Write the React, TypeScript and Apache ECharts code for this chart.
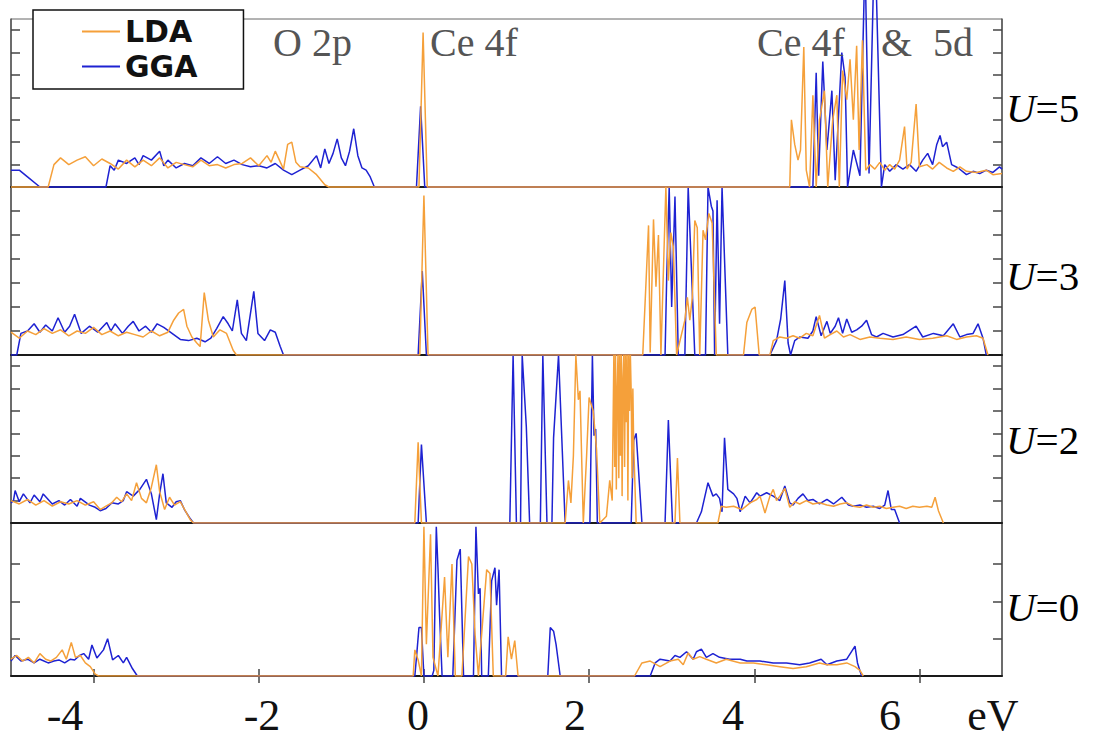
import React, { useEffect, useRef } from "react";
import * as echarts from "echarts";

type P = [number, number];

// ---- tick labels / panel labels ----
const X_TICKS = [-4, -2, 0, 2, 4, 6];
const X_TICK_LABELS = ["-4", "-2", "0", "2", "4", "6"];
const U_VALUES = ["5", "3", "2", "0"];
const Y_TICKS_U5 = [1, 2, 3, 4, 5, 6, 7];
const Y_TICKS_U3 = [1, 2, 3, 4, 5, 6];
const Y_TICKS_U2 = [1, 2, 3, 4, 5, 6, 7];
const Y_TICKS_U0 = [1, 2, 3];

// ---- DOS data (eV, states) ----
const LDA_U5: P[] = [
  [-5, 0], [-4.55, 0], [-4.48, 1.0], [-4.4, 1.3], [-4.3, 1.0], [-4.2, 1.2], [-4.1, 1.35], [-4.0, 0.95], [-3.9, 1.25], [-3.8, 1.05], [-3.7, 0.8], [-3.6, 1.2], [-3.5, 0.9], [-3.4, 1.2], [-3.3, 0.95], [-3.2, 1.3], [-3.1, 0.85], [-3.0, 1.1], [-2.9, 1.0], [-2.8, 0.9], [-2.7, 1.2], [-2.6, 0.95], [-2.5, 1.0], [-2.4, 0.85], [-2.3, 1.0], [-2.2, 1.05], [-2.1, 1.3], [-2.0, 0.95], [-1.9, 1.4], [-1.85, 1.1], [-1.8, 1.6], [-1.75, 1.2], [-1.7, 0.8], [-1.65, 1.9], [-1.6, 2.0], [-1.55, 1.1], [-1.5, 0.9], [-1.4, 0.85], [-1.3, 0.55], [-1.2, 0.1], [-1.15, 0],
  [-0.06, 0], [-0.01, 6.9], [0.04, 0],
  [4.43, 0], [4.45, 3.0], [4.49, 1.9], [4.53, 1.2], [4.56, 1.65], [4.6, 6.25], [4.63, 0.75], [4.67, 0], [4.71, 4.1], [4.75, 0], [4.79, 3.0], [4.85, 4.3], [4.89, 0], [4.95, 3.0], [5.0, 4.1], [5.03, 0], [5.07, 5.2], [5.12, 3.9], [5.16, 5.7], [5.2, 3.0], [5.24, 6.3], [5.27, 1.65], [5.31, 6.55], [5.35, 0.75], [5.4, 1.0], [5.46, 0.8], [5.52, 1.1], [5.58, 0.75], [5.64, 1.0], [5.7, 0.8], [5.76, 1.2], [5.82, 2.7], [5.85, 0.8], [5.9, 1.1], [5.96, 3.7], [6.0, 0.9], [6.09, 1.0], [6.16, 0.8], [6.24, 1.1], [6.33, 0.85], [6.41, 0.7], [6.49, 0.9], [6.57, 0.7], [6.69, 0.65], [6.81, 0.75], [6.89, 0.55], [7.0, 0.6],
];
const GGA_U5: P[] = [
  [-5, 0.75], [-4.9, 0.75], [-4.8, 0.45], [-4.65, 0], [-3.85, 0], [-3.8, 0.95], [-3.75, 0.75], [-3.7, 1.2], [-3.6, 1.05], [-3.5, 1.3], [-3.45, 1.0], [-3.4, 1.4], [-3.3, 1.2], [-3.2, 1.6], [-3.15, 0.95], [-3.1, 1.2], [-3.0, 0.85], [-2.9, 1.05], [-2.8, 0.95], [-2.7, 1.3], [-2.6, 1.05], [-2.5, 1.35], [-2.4, 1.05], [-2.3, 1.2], [-2.2, 1.0], [-2.1, 0.9], [-2.0, 0.95], [-1.9, 0.85], [-1.8, 1.05], [-1.7, 0.75], [-1.6, 0.55], [-1.5, 0.75], [-1.4, 0.95], [-1.3, 1.4], [-1.25, 0.85], [-1.2, 1.7], [-1.15, 1.05], [-1.1, 1.5], [-1.05, 2.15], [-1.0, 1.3], [-0.95, 0.95], [-0.9, 1.6], [-0.85, 2.6], [-0.8, 1.4], [-0.75, 0.85], [-0.7, 0.75], [-0.65, 0.45], [-0.6, 0],
  [-0.09, 0], [-0.04, 3.6], [0.01, 0],
  [4.71, 0], [4.75, 5.1], [4.78, 0.5], [4.83, 5.6], [4.88, 1.65], [4.94, 4.3], [4.98, 0.3], [5.06, 6.0], [5.1, 4.9], [5.13, 0], [5.2, 1.65], [5.28, 0.5], [5.33, 8.5], [5.35, 8.5], [5.39, 0.6], [5.44, 8.5], [5.48, 8.5], [5.54, 0], [5.58, 1.0], [5.64, 0.7], [5.72, 1.0], [5.8, 0.8], [5.88, 1.0], [5.96, 0.7], [6.04, 1.2], [6.1, 1.5], [6.16, 1.0], [6.21, 1.9], [6.25, 2.3], [6.28, 1.8], [6.33, 2.0], [6.39, 1.0], [6.47, 0.85], [6.57, 0.55], [6.65, 0.7], [6.73, 0.6], [6.81, 0.75], [6.89, 0.65], [6.97, 0.9], [7.0, 0.8],
];

const LDA_U3: P[] = [
  [-5, 0.95], [-4.9, 0.7], [-4.8, 1.0], [-4.7, 0.85], [-4.6, 1.1], [-4.5, 0.9], [-4.4, 1.05], [-4.3, 0.8], [-4.2, 1.0], [-4.1, 0.9], [-4.0, 1.15], [-3.9, 0.85], [-3.8, 1.0], [-3.7, 0.8], [-3.6, 0.95], [-3.5, 0.85], [-3.4, 0.75], [-3.3, 1.0], [-3.2, 0.8], [-3.1, 0.95], [-3.03, 1.45], [-2.97, 1.75], [-2.91, 1.9], [-2.87, 1.2], [-2.81, 0.75], [-2.75, 0.5], [-2.71, 0.35], [-2.66, 2.6], [-2.61, 1.45], [-2.55, 0.75], [-2.47, 1.05], [-2.39, 0.9], [-2.31, 0.2], [-2.27, 0],
  [-0.05, 0], [0.0, 6.65], [0.05, 0],
  [2.65, 0], [2.72, 5.4], [2.74, 0.1], [2.78, 5.65], [2.81, 2.85], [2.84, 5.0], [2.87, 0], [2.93, 7.0], [2.96, 3.1], [2.99, 5.1], [3.02, 4.5], [3.06, 0], [3.16, 1.45], [3.19, 2.4], [3.22, 1.45], [3.25, 2.4], [3.28, 5.6], [3.31, 5.3], [3.34, 0], [3.38, 5.2], [3.41, 4.8], [3.45, 5.9], [3.49, 5.5], [3.54, 0],
  [3.87, 0], [3.91, 1.35], [3.97, 1.9], [4.01, 2.0], [4.06, 0],
  [4.19, 0], [4.23, 0.6], [4.31, 0.75], [4.39, 0.7], [4.47, 0.8], [4.55, 0.7], [4.63, 0.9], [4.71, 0.8], [4.79, 1.65], [4.85, 0.7], [4.92, 0.85], [5.0, 1.0], [5.08, 0.75], [5.16, 0.85], [5.28, 0.65], [5.4, 0.75], [5.52, 0.7], [5.68, 0.65], [5.84, 0.75], [6.0, 0.65], [6.16, 0.7], [6.33, 0.8], [6.45, 0.65], [6.57, 0.75], [6.69, 0.8], [6.77, 0.7], [6.83, 0],
];
const GGA_U3: P[] = [
  [-5, 0], [-4.93, 0], [-4.88, 0.9], [-4.8, 1.0], [-4.72, 1.3], [-4.65, 0.95], [-4.58, 1.25], [-4.5, 1.0], [-4.43, 1.55], [-4.35, 0.95], [-4.29, 1.2], [-4.23, 1.7], [-4.15, 0.9], [-4.05, 1.2], [-3.95, 0.95], [-3.84, 1.35], [-3.79, 1.0], [-3.74, 1.3], [-3.65, 0.9], [-3.58, 1.2], [-3.52, 1.4], [-3.45, 1.0], [-3.37, 1.2], [-3.3, 0.95], [-3.23, 1.3], [-3.15, 1.15], [-3.05, 0.9], [-2.95, 0.65], [-2.85, 0.6], [-2.75, 0.7], [-2.65, 0.55], [-2.58, 0.7], [-2.51, 1.1], [-2.43, 1.6], [-2.37, 1.3], [-2.32, 1.0], [-2.26, 2.3], [-2.21, 0.9], [-2.15, 0.6], [-2.06, 2.65], [-2.01, 0.9], [-1.93, 0.6], [-1.86, 1.05], [-1.8, 0.95], [-1.74, 0.35], [-1.7, 0],
  [-0.07, 0], [-0.02, 3.5], [0.03, 0],
  [2.92, 0], [2.94, 3.25], [2.97, 7.0], [3.0, 2.0], [3.04, 6.6], [3.08, 0], [3.16, 0], [3.2, 7.0], [3.28, 0], [3.41, 0], [3.44, 7.0], [3.48, 6.2], [3.5, 6.0], [3.52, 0], [3.55, 6.45], [3.58, 1.3], [3.61, 7.0], [3.68, 0],
  [4.19, 0], [4.27, 0.6], [4.32, 1.5], [4.37, 3.1], [4.41, 0.5], [4.44, 0], [4.49, 0.6], [4.55, 0.75], [4.65, 0.7], [4.71, 1.0], [4.75, 1.6], [4.81, 0.8], [4.88, 1.4], [4.92, 0.9], [4.98, 1.2], [5.02, 1.55], [5.07, 0.9], [5.12, 1.5], [5.18, 0.95], [5.24, 1.05], [5.3, 1.2], [5.36, 1.45], [5.42, 0.85], [5.48, 0.75], [5.56, 0.9], [5.68, 0.75], [5.8, 0.85], [5.96, 1.2], [6.04, 0.75], [6.17, 0.9], [6.29, 0.8], [6.41, 1.3], [6.49, 0.75], [6.57, 0.85], [6.65, 0.9], [6.71, 1.3], [6.77, 0.7], [6.81, 0],
];

const LDA_U2: P[] = [
  [-5, 1.0], [-4.9, 0.85], [-4.8, 1.05], [-4.7, 0.8], [-4.6, 1.0], [-4.5, 0.75], [-4.4, 0.95], [-4.3, 0.85], [-4.2, 1.0], [-4.1, 0.8], [-4.0, 0.95], [-3.92, 0.6], [-3.85, 0.75], [-3.78, 0.9], [-3.72, 1.15], [-3.66, 0.95], [-3.6, 1.3], [-3.54, 1.0], [-3.48, 1.8], [-3.42, 1.1], [-3.36, 0.9], [-3.3, 1.6], [-3.24, 2.6], [-3.2, 1.4], [-3.14, 0.6], [-3.08, 1.15], [-3.02, 0.8], [-2.95, 0.95], [-2.89, 0.55], [-2.83, 0.15], [-2.79, 0],
  [-0.11, 0], [-0.07, 3.6], [-0.03, 0],
  [1.71, 0], [1.75, 1.9], [1.78, 0.9], [1.81, 3.0], [1.84, 7.5], [1.87, 5.5], [1.89, 5.9], [1.93, 0], [1.97, 3.0], [2.0, 5.6], [2.05, 5.0], [2.09, 3.3], [2.13, 0], [2.21, 0.3], [2.25, 1.9], [2.28, 1.0], [2.3, 7.5], [2.31, 2.5], [2.32, 7.5], [2.33, 1.5], [2.34, 6.0], [2.35, 7.5], [2.36, 2.0], [2.37, 7.5], [2.38, 3.0], [2.39, 7.5], [2.4, 1.2], [2.41, 6.5], [2.42, 7.5], [2.43, 2.5], [2.44, 7.5], [2.45, 4.5], [2.46, 7.5], [2.47, 1.0], [2.48, 7.5], [2.49, 5.0], [2.5, 7.5], [2.51, 5.8], [2.52, 2.0], [2.53, 6.0], [2.54, 3.5], [2.57, 0],
  [3.04, 0], [3.07, 2.9], [3.1, 0],
  [3.56, 0], [3.6, 0.75], [3.66, 0.7], [3.75, 0.75], [3.85, 0.6], [3.95, 0.9], [4.03, 1.05], [4.07, 1.2], [4.13, 0.45], [4.19, 1.2], [4.23, 1.5], [4.27, 1.0], [4.31, 1.2], [4.37, 1.55], [4.43, 0.7], [4.49, 0.95], [4.55, 0.85], [4.63, 1.0], [4.71, 0.85], [4.79, 0.9], [4.88, 0.8], [4.96, 0.75], [5.04, 0.85], [5.12, 0.9], [5.2, 0.75], [5.28, 0.7], [5.36, 0.8], [5.44, 0.7], [5.52, 0.75], [5.6, 0.65], [5.68, 0.7], [5.76, 0.75], [5.84, 0.65], [5.92, 0.75], [6.0, 0.7], [6.09, 0.75], [6.15, 0.7], [6.19, 1.15], [6.23, 0.55], [6.29, 0],
];
const GGA_U2: P[] = [
  [-5, 0.9], [-4.97, 1.0], [-4.95, 1.45], [-4.9, 0.95], [-4.85, 1.3], [-4.77, 0.9], [-4.72, 1.25], [-4.65, 0.95], [-4.61, 1.3], [-4.5, 0.85], [-4.42, 1.0], [-4.35, 0.8], [-4.28, 1.05], [-4.2, 0.75], [-4.16, 1.1], [-4.05, 0.8], [-3.98, 0.7], [-3.92, 0.55], [-3.85, 0.65], [-3.78, 0.9], [-3.7, 0.85], [-3.64, 1.0], [-3.6, 1.4], [-3.52, 1.2], [-3.44, 1.5], [-3.36, 1.95], [-3.3, 1.3], [-3.24, 0.15], [-3.2, 1.3], [-3.16, 2.2], [-3.12, 0.9], [-3.05, 0.7], [-3.0, 0.95], [-2.95, 1.0], [-2.9, 0.6], [-2.84, 0.25], [-2.79, 0],
  [-0.07, 0], [-0.03, 3.5], [0.03, 0],
  [1.04, 0], [1.08, 7.5], [1.12, 0], [1.17, 0], [1.19, 7.5], [1.24, 4.3], [1.28, 0], [1.41, 0], [1.44, 7.5], [1.49, 0], [1.55, 0], [1.57, 3.8], [1.63, 7.5], [1.71, 0], [2.01, 0], [2.04, 7.5], [2.06, 3.9], [2.08, 4.2], [2.1, 0], [2.51, 0], [2.54, 3.7], [2.57, 4.0], [2.64, 0], [2.92, 0], [2.96, 4.6], [3.01, 0],
  [3.3, 0], [3.36, 0.5], [3.44, 1.8], [3.5, 1.2], [3.54, 1.3], [3.58, 1.1], [3.61, 0.5], [3.64, 3.8], [3.68, 1.5], [3.75, 1.3], [3.79, 1.1], [3.83, 0.5], [3.89, 1.2], [3.95, 0.9], [4.03, 1.35], [4.07, 1.2], [4.15, 1.35], [4.23, 1.2], [4.31, 1.0], [4.37, 1.65], [4.43, 0.9], [4.47, 0.8], [4.53, 1.1], [4.59, 1.3], [4.65, 1.0], [4.71, 1.05], [4.79, 0.85], [4.88, 1.05], [4.96, 0.85], [5.06, 1.15], [5.14, 0.8], [5.2, 0.75], [5.28, 0.8], [5.36, 0.7], [5.44, 0.75], [5.52, 0.65], [5.58, 0.8], [5.62, 1.45], [5.66, 0.6], [5.7, 0.6], [5.76, 0],
];

const LDA_U0: P[] = [
  [-5, 0.45], [-4.93, 0.55], [-4.86, 0.4], [-4.79, 0.5], [-4.72, 0.35], [-4.65, 0.6], [-4.58, 0.45], [-4.52, 0.4], [-4.45, 0.5], [-4.38, 0.7], [-4.33, 0.45], [-4.27, 0.9], [-4.22, 0.5], [-4.16, 0.55], [-4.1, 0.35], [-4.04, 0.25], [-3.98, 0.05], [-3.94, 0],
  [-0.13, 0], [-0.11, 0.7], [-0.07, 0.43], [-0.03, 0], [0.0, 4.0], [0.03, 0.85], [0.08, 3.8], [0.11, 0.5], [0.17, 0], [0.25, 2.65], [0.29, 0.5], [0.34, 3.0], [0.38, 0], [0.46, 0], [0.54, 3.2], [0.58, 3.0], [0.62, 1.1], [0.66, 0], [0.76, 2.85], [0.8, 2.75], [0.84, 0], [0.99, 0], [1.02, 1.05], [1.06, 0.45], [1.1, 0.95], [1.14, 0],
  [2.55, 0], [2.64, 0.35], [2.74, 0.4], [2.86, 0.25], [2.98, 0.4], [3.08, 0.45], [3.14, 0.3], [3.2, 0.62], [3.26, 0.45], [3.34, 0.52], [3.42, 0.45], [3.54, 0.35], [3.66, 0.45], [3.83, 0.35], [3.99, 0.35], [4.15, 0.3], [4.31, 0.25], [4.47, 0.2], [4.63, 0.25], [4.79, 0.35], [4.88, 0.3], [5.0, 0.3], [5.12, 0.35], [5.22, 0.25], [5.28, 0.15], [5.32, 0],
];
const GGA_U0: P[] = [
  [-5, 0.4], [-4.95, 0.55], [-4.88, 0.4], [-4.8, 0.45], [-4.72, 0.35], [-4.65, 0.45], [-4.55, 0.35], [-4.48, 0.4], [-4.42, 0.43], [-4.35, 0.35], [-4.28, 0.45], [-4.23, 0.43], [-4.17, 0.55], [-4.12, 0.6], [-4.06, 0.45], [-4.02, 0.83], [-3.96, 0.48], [-3.88, 0.7], [-3.83, 1.0], [-3.77, 0.43], [-3.7, 0.55], [-3.64, 0.35], [-3.6, 0.5], [-3.53, 0.2], [-3.47, 0],
  [-0.11, 0], [-0.09, 0.5], [-0.06, 1.3], [-0.03, 1.3], [0.0, 0], [0.1, 0], [0.12, 0.15], [0.15, 4.0], [0.17, 2.9], [0.19, 1.6], [0.22, 0], [0.35, 0], [0.4, 3.1], [0.44, 3.4], [0.48, 0], [0.6, 0], [0.63, 4.0], [0.66, 2.2], [0.68, 2.35], [0.7, 0], [0.78, 0], [0.82, 2.55], [0.86, 2.9], [0.88, 1.9], [0.91, 2.85], [0.94, 0],
  [1.5, 0], [1.53, 1.3], [1.57, 1.2], [1.6, 0.85], [1.65, 0],
  [2.74, 0], [2.8, 0.35], [2.86, 0.45], [2.98, 0.4], [3.04, 0.55], [3.1, 0.5], [3.18, 0.65], [3.26, 0.45], [3.3, 0.65], [3.36, 0.72], [3.42, 0.5], [3.5, 0.6], [3.58, 0.5], [3.7, 0.45], [3.83, 0.45], [3.91, 0.4], [4.07, 0.4], [4.23, 0.35], [4.39, 0.35], [4.55, 0.3], [4.67, 0.35], [4.81, 0.45], [4.88, 0.3], [5.0, 0.4], [5.12, 0.45], [5.22, 0.8], [5.25, 0.35], [5.3, 0],
];

const LDA_SETS = [LDA_U5, LDA_U3, LDA_U2, LDA_U0];
const GGA_SETS = [GGA_U5, GGA_U3, GGA_U2, GGA_U0];
const Y_TICK_SETS = [Y_TICKS_U5, Y_TICKS_U3, Y_TICKS_U2, Y_TICKS_U0];

// ---- layout ----
const PANEL_TOP = [19, 187, 355, 523];
const PANEL_H = [168, 168, 168, 153];
const Y_MAX = [7.5, 7, 7.5, 4.1];
const U_LABEL_Y = [108, 276, 440, 607];
const X_LABEL_POS = [65, 262, 418, 575, 733, 890];
const ORANGE = "#F5A03A";
const BLUE = "#1E22D2";
const SERIF = "'Liberation Serif', 'DejaVu Serif', serif";

export default function App() {
  const ref = useRef<HTMLDivElement>(null);
  useEffect(() => {
    if (!ref.current) return;
    const chart = echarts.init(ref.current, null, { renderer: "svg" });

    const grids = PANEL_TOP.map((t, i) => ({
      left: 11, width: 991, top: t, height: PANEL_H[i],
      show: true, borderColor: "#666", borderWidth: 1, backgroundColor: "transparent",
    }));

    const xAxes: any[] = PANEL_TOP.map((_, i) => ({
      type: "value", gridIndex: i, min: -5, max: 7, position: "bottom",
      axisLine: { show: true, onZero: false, lineStyle: { color: "#1a1a1a", width: 2 } },
      axisTick: i === 3
        ? { show: true, inside: true, length: 7, customValues: X_TICKS, lineStyle: { color: "#444", width: 1.5 } }
        : { show: false },
      axisLabel: { show: false },
      splitLine: { show: false },
    }));
    xAxes.push({
      type: "value", gridIndex: 3, min: -5, max: 7, position: "top",
      axisLine: { show: false },
      axisTick: { show: true, inside: true, length: 7, customValues: X_TICKS, lineStyle: { color: "#444", width: 1.5 } },
      axisLabel: { show: false }, splitLine: { show: false },
    });

    const yAxes: any[] = [];
    PANEL_TOP.forEach((_, i) => {
      ["left", "right"].forEach((pos) => {
        yAxes.push({
          type: "value", gridIndex: i, min: 0, max: Y_MAX[i], position: pos,
          axisLine: { show: true, onZero: false, lineStyle: { color: "#555", width: 1.5 } },
          axisTick: { show: true, inside: true, length: 9, customValues: Y_TICK_SETS[i], lineStyle: { color: "#444", width: 1.5 } },
          axisLabel: { show: false }, splitLine: { show: false },
        });
      });
    });

    const series: any[] = [];
    PANEL_TOP.forEach((_, i) => {
      series.push({
        type: "line", name: "GGA", data: GGA_SETS[i], xAxisIndex: i, yAxisIndex: i * 2,
        symbol: "none", showSymbol: false, clip: i !== 0, z: 2,
        lineStyle: { color: BLUE, width: 1.5 }, itemStyle: { color: BLUE },
        emphasis: { disabled: true },
      });
      series.push({
        type: "line", name: "LDA", data: LDA_SETS[i], xAxisIndex: i, yAxisIndex: i * 2,
        symbol: "none", showSymbol: false, clip: i !== 0, z: 3,
        lineStyle: { color: ORANGE, width: 1.5 }, itemStyle: { color: ORANGE },
        emphasis: { disabled: true },
      });
    });

    const txt = (text: string, x: number, y: number, size: number, fill: string, align: string) => ({
      type: "text", x, y, z: 5,
      style: { text, fill, font: `${size}px ${SERIF}`, align, textAlign: align, verticalAlign: "middle", textVerticalAlign: "middle" },
    });

    const graphic: any[] = [
      txt("O 2p", 273, 42, 40, "#555", "left"),
      txt("Ce 4f", 430, 42, 40, "#555", "left"),
      txt("Ce 4f", 757, 42, 40, "#555", "left"),
      txt("&", 881, 42, 40, "#555", "left"),
      txt("5d", 933, 42, 40, "#555", "left"),
      ...X_TICK_LABELS.map((l, i) => txt(l, X_LABEL_POS[i], 715, 44, "#111", "center")),
      txt("eV", 993, 715, 44, "#111", "center"),
      ...U_VALUES.map((u, i) => ({
        type: "text", x: 1006, y: U_LABEL_Y[i], z: 5,
        style: {
          text: `{i|U}{n|=${u}}`,
          verticalAlign: "middle", textVerticalAlign: "middle",
          rich: {
            i: { fontStyle: "italic", fontSize: 41, fontFamily: SERIF, color: "#111" },
            n: { fontSize: 41, fontFamily: SERIF, color: "#111" },
          },
        },
      })),
    ];

    chart.setOption({
      animation: false,
      backgroundColor: "#fff",
      textStyle: { fontFamily: SERIF },
      grid: grids,
      xAxis: xAxes,
      yAxis: yAxes,
      legend: {
        data: ["LDA", "GGA"], orient: "vertical", left: 33, top: 10,
        icon: "rect", itemWidth: 38, itemHeight: 2,
        backgroundColor: "#fff", borderColor: "#111", borderWidth: 1.5, borderRadius: 0,
        padding: [5, 46, 6, 49], itemGap: 2,
        textStyle: { fontSize: 30, fontWeight: "bold", fontFamily: "'DejaVu Sans', sans-serif", color: "#111", lineHeight: 33 },
        z: 10, selectedMode: false,
      },
      graphic,
      series,
    });
    return () => chart.dispose();
  }, []);
  return (
    <div
      ref={ref}
      style={{ position: "absolute", left: 0, top: 0, width: 1093, height: 738, background: "#fff" }}
    />
  );
}
